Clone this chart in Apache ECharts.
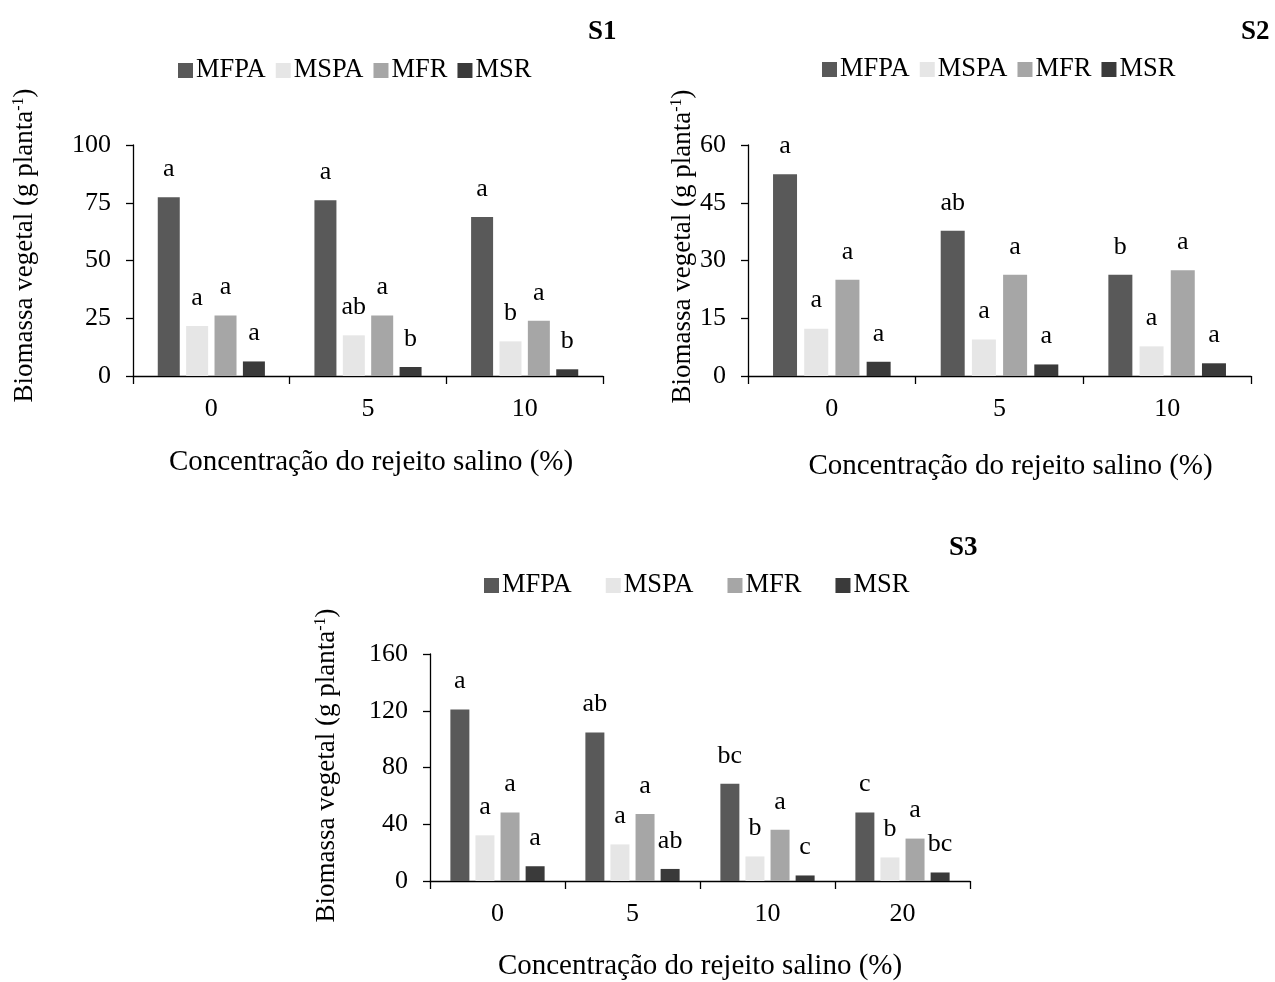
<!DOCTYPE html>
<html>
<head>
<meta charset="utf-8">
<script src="https://cdn.jsdelivr.net/npm/echarts@6/dist/echarts.min.js"></script>
<style>
html,body{margin:0;padding:0;background:#fff;}
#c{width:1275px;height:982px;}
</style>
</head>
<body>
<div id="c"></div>
<script>
// ---- data ----
const seriesNames = ['MFPA', 'MSPA', 'MFR', 'MSR'];
const colors = ['#595959', '#e6e6e6', '#a6a6a6', '#3a3a3a'];

const catS1 = ['0', '5', '10'];
const s1MFPA = [77.4, 76.1, 68.8];
const s1MSPA = [21.6, 17.6, 15.0];
const s1MFR  = [26.2, 26.2, 23.9];
const s1MSR  = [6.3, 3.9, 2.9];
const s1LetMFPA = ['a', 'a', 'a'];
const s1LetMSPA = ['a', 'ab', 'b'];
const s1LetMFR  = ['a', 'a', 'a'];
const s1LetMSR  = ['a', 'b', 'b'];

const catS2 = ['0', '5', '10'];
const s2MFPA = [52.4, 37.7, 26.3];
const s2MSPA = [12.3, 9.5, 7.7];
const s2MFR  = [25.0, 26.3, 27.5];
const s2MSR  = [3.7, 3.0, 3.3];
const s2LetMFPA = ['a', 'ab', 'b'];
const s2LetMSPA = ['a', 'a', 'a'];
const s2LetMFR  = ['a', 'a', 'a'];
const s2LetMSR  = ['a', 'a', 'a'];

const catS3 = ['0', '5', '10', '20'];
const s3MFPA = [120.9, 104.7, 68.6, 48.3];
const s3MSPA = [32.2, 25.8, 17.3, 16.6];
const s3MFR  = [48.3, 47.2, 36.1, 29.9];
const s3MSR  = [10.4, 8.5, 3.9, 6.0];
const s3LetMFPA = ['a', 'ab', 'bc', 'c'];
const s3LetMSPA = ['a', 'a', 'b', 'b'];
const s3LetMFR  = ['a', 'a', 'a', 'a'];
const s3LetMSR  = ['a', 'ab', 'c', 'bc'];

const yTicksS1 = {min: 0, max: 100, interval: 25};
const yTicksS2 = {min: 0, max: 60, interval: 15};
const yTicksS3 = {min: 0, max: 160, interval: 40};

const yName = 'Biomassa vegetal (g planta{sup|-1})';
const xName = 'Concentração do rejeito salino (%)';

// ---- build option ----
const FONT = '"Liberation Serif", "Times New Roman", serif';

const panels = [
  {title: 'S1', cats: catS1, y: yTicksS1,
   vals: [s1MFPA, s1MSPA, s1MFR, s1MSR], lets: [s1LetMFPA, s1LetMSPA, s1LetMFR, s1LetMSR],
   grid: {left: 133, top: 145, width: 470, height: 231},
   titlePos: {left: 583, top: 14}, legendPos: {left: 173, top: 52}, legendGap: 10,
   barWidth: 22, barGap: '29%', xNameGap: 72, yNameGap: 95, yNamePad: 30, xNamePad: 6},
  {title: 'S2', cats: catS2, y: yTicksS2,
   vals: [s2MFPA, s2MSPA, s2MFR, s2MSR], lets: [s2LetMFPA, s2LetMSPA, s2LetMFR, s2LetMSR],
   grid: {left: 748, top: 145, width: 503, height: 231},
   titlePos: {left: 1236, top: 14}, legendPos: {left: 817, top: 51}, legendGap: 10,
   barWidth: 24, barGap: '30%', xNameGap: 76, yNameGap: 50, yNamePad: 28, xNamePad: 22},
  {title: 'S3', cats: catS3, y: yTicksS3,
   vals: [s3MFPA, s3MSPA, s3MFR, s3MSR], lets: [s3LetMFPA, s3LetMSPA, s3LetMFR, s3LetMSR],
   grid: {left: 430, top: 654, width: 540, height: 229},
   titlePos: {left: 944, top: 530}, legendPos: {left: 479, top: 567}, legendGap: 34,
   barWidth: 19, barGap: '32%', xNameGap: 71, yNameGap: 90, yNamePad: 4, xNamePad: 0}
];

const option = {
  backgroundColor: '#fff',
  animation: false,
  textStyle: {fontFamily: FONT, color: '#000'},
  title: [], legend: [], grid: [], xAxis: [], yAxis: [], series: []
};

panels.forEach((p, i) => {
  option.title.push({
    text: p.title, left: p.titlePos.left, top: p.titlePos.top,
    textStyle: {fontFamily: FONT, fontSize: 27, fontWeight: 'bold', color: '#000'}
  });
  option.legend.push({
    data: seriesNames.slice(), left: p.legendPos.left, top: p.legendPos.top,
    itemWidth: 15, itemHeight: 15, itemGap: p.legendGap, icon: 'rect',
    textStyle: {fontFamily: FONT, fontSize: 26.5, color: '#000', padding: [0, 0, 0, -2]},
    selectedMode: false
  });
  option.grid.push(Object.assign({containLabel: false}, p.grid));
  option.xAxis.push({
    type: 'category', gridIndex: i, data: p.cats,
    name: xName, nameLocation: 'middle', nameGap: p.xNameGap,
    nameTextStyle: {fontFamily: FONT, fontSize: 29, color: '#000', padding: [0, 0, 0, p.xNamePad]},
    axisLine: {lineStyle: {color: '#000', width: 1.3}},
    axisTick: {show: true, length: 8, lineStyle: {color: '#000', width: 1.3}},
    axisLabel: {fontFamily: FONT, fontSize: 26, color: '#000', margin: 20},
    splitLine: {show: false}
  });
  option.yAxis.push({
    type: 'value', gridIndex: i, min: p.y.min, max: p.y.max, interval: p.y.interval,
    name: yName, nameLocation: 'middle', nameGap: p.yNameGap, nameRotate: 90,
    nameTextStyle: {fontFamily: FONT, fontSize: 27, color: '#000', padding: [0, 0, 0, p.yNamePad],
      rich: {sup: {fontFamily: FONT, fontSize: 16, color: '#000', verticalAlign: 'top', padding: [0, 0, 10, 0]}}},
    axisLine: {show: true, lineStyle: {color: '#000', width: 1.3}},
    axisTick: {show: true, length: 7, lineStyle: {color: '#000', width: 1.3}},
    axisLabel: {fontFamily: FONT, fontSize: 26, color: '#000', margin: 22},
    splitLine: {show: false}
  });
  seriesNames.forEach((name, k) => {
    const letters = p.lets[k];
    option.series.push({
      type: 'bar', name: name, xAxisIndex: i, yAxisIndex: i,
      data: p.vals[k], barWidth: p.barWidth, barGap: p.barGap,
      itemStyle: {color: colors[k]},
      label: {show: true, position: 'top', distance: 15,
        fontFamily: FONT, fontSize: 26, color: '#000',
        formatter: (params) => letters[params.dataIndex]}
    });
  });
});

const chart = echarts.init(document.getElementById('c'), null, {renderer: 'canvas'});
chart.setOption(option);
</script>
</body>
</html>
